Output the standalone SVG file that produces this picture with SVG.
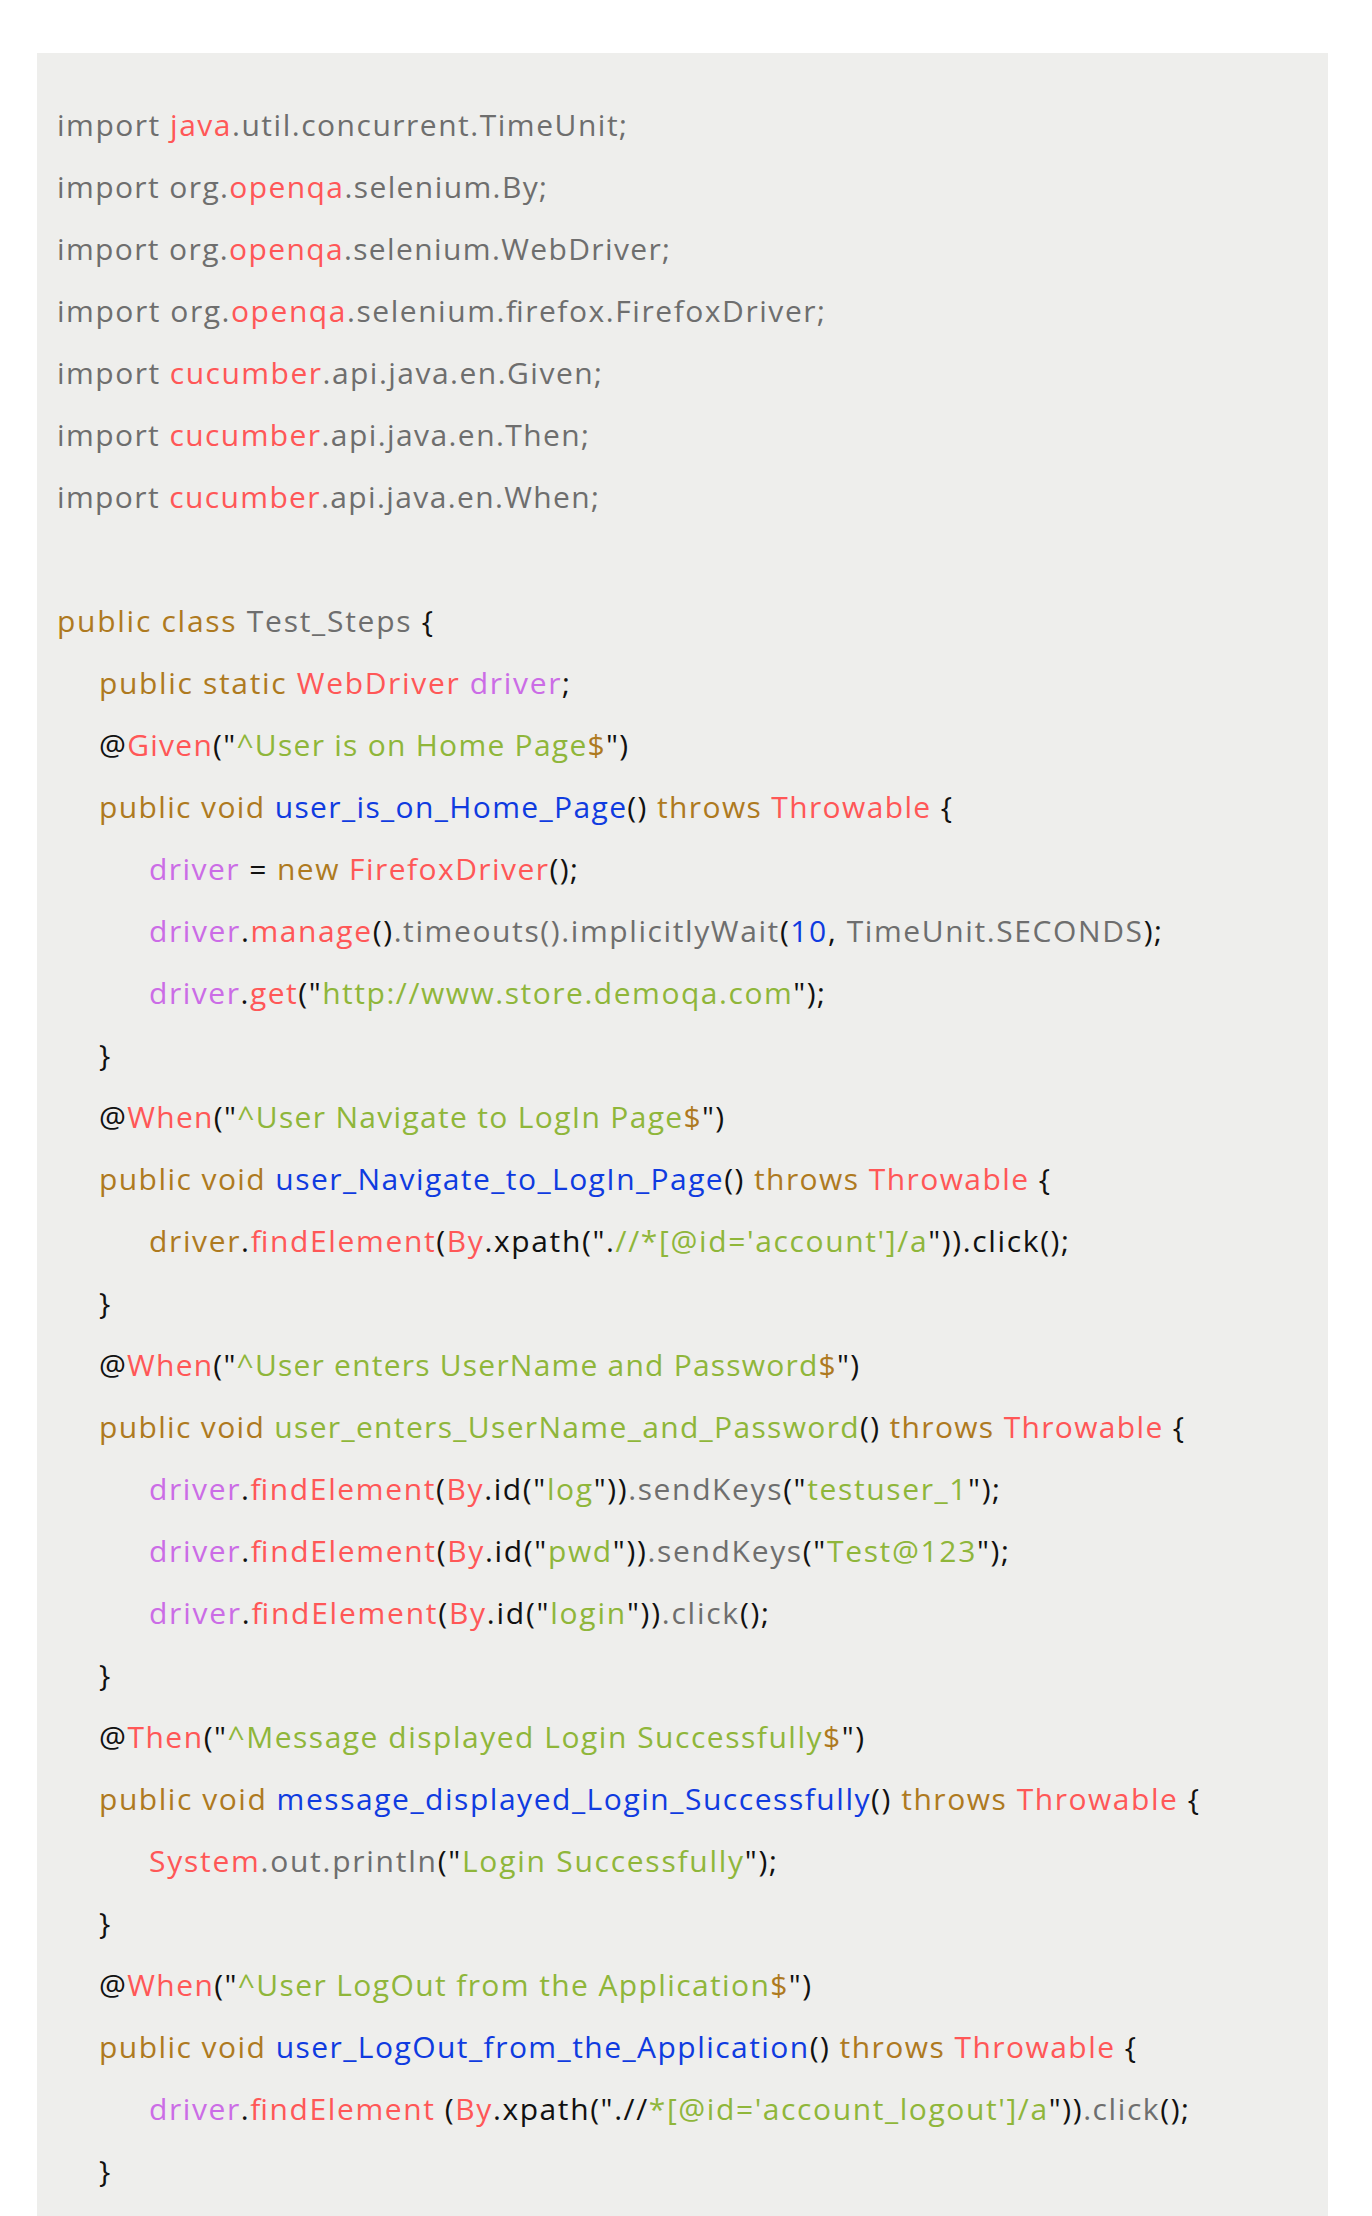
<svg xmlns="http://www.w3.org/2000/svg" width="1372" height="2216" viewBox="0 0 1372 2216">
<style>
text{font-family:"Open Sans",Roboto,"Liberation Sans",sans-serif;font-size:30px;white-space:pre}
.g{fill:#6E6E6E}.r{fill:#FF5757}.k{fill:#AE7A1F}.p{fill:#CB6CE6}.s{fill:#8FB63A}.b{fill:#0F3BE0}.d{fill:#111111}
</style>
<rect width="1372" height="2216" fill="#ffffff"/>
<rect id="panel" x="37" y="53" width="1291" height="2163" fill="#EEEEEC"/>
<g id="code" xml:space="preserve">
<text id="l0" x="57" y="136" textLength="570" lengthAdjust="spacing"><tspan class="g">import </tspan><tspan class="r">java</tspan><tspan class="g">.util.concurrent.TimeUnit;</tspan></text>
<text id="l1" x="57" y="198" textLength="490" lengthAdjust="spacing"><tspan class="g">import org.</tspan><tspan class="r">openqa</tspan><tspan class="g">.selenium.By;</tspan></text>
<text id="l2" x="57" y="260" textLength="613" lengthAdjust="spacing"><tspan class="g">import org.</tspan><tspan class="r">openqa</tspan><tspan class="g">.selenium.WebDriver;</tspan></text>
<text id="l3" x="57" y="322" textLength="768" lengthAdjust="spacing"><tspan class="g">import org.</tspan><tspan class="r">openqa</tspan><tspan class="g">.selenium.firefox.FirefoxDriver;</tspan></text>
<text id="l4" x="57" y="384" textLength="545" lengthAdjust="spacing"><tspan class="g">import </tspan><tspan class="r">cucumber</tspan><tspan class="g">.api.java.en.Given;</tspan></text>
<text id="l5" x="57" y="446" textLength="532" lengthAdjust="spacing"><tspan class="g">import </tspan><tspan class="r">cucumber</tspan><tspan class="g">.api.java.en.Then;</tspan></text>
<text id="l6" x="57" y="508" textLength="542" lengthAdjust="spacing"><tspan class="g">import </tspan><tspan class="r">cucumber</tspan><tspan class="g">.api.java.en.When;</tspan></text>
<text id="l8" x="57" y="632" textLength="376" lengthAdjust="spacing"><tspan class="k">public class </tspan><tspan class="g">Test_Steps</tspan><tspan class="d"> {</tspan></text>
<text id="l9" x="99" y="694" textLength="471" lengthAdjust="spacing"><tspan class="k">public static </tspan><tspan class="r">WebDriver</tspan><tspan class="d"> </tspan><tspan class="p">driver</tspan><tspan class="d">;</tspan></text>
<text id="l10" x="99" y="756" textLength="529" lengthAdjust="spacing"><tspan class="d">@</tspan><tspan class="r">Given</tspan><tspan class="d">("</tspan><tspan class="s">^User is on Home Page</tspan><tspan class="k">$</tspan><tspan class="d">")</tspan></text>
<text id="l11" x="99" y="818" textLength="853" lengthAdjust="spacing"><tspan class="k">public void </tspan><tspan class="b">user_is_on_Home_Page</tspan><tspan class="d">() </tspan><tspan class="k">throws </tspan><tspan class="r">Throwable</tspan><tspan class="d"> {</tspan></text>
<text id="l12" x="149" y="880" textLength="429" lengthAdjust="spacing"><tspan class="p">driver</tspan><tspan class="d"> = </tspan><tspan class="k">new </tspan><tspan class="r">FirefoxDriver</tspan><tspan class="d">();</tspan></text>
<text id="l13" x="149" y="942" textLength="1013" lengthAdjust="spacing"><tspan class="p">driver</tspan><tspan class="d">.</tspan><tspan class="r">manage</tspan><tspan class="d">()</tspan><tspan class="g">.timeouts().implicitlyWait</tspan><tspan class="d">(</tspan><tspan class="b">10</tspan><tspan class="d">, </tspan><tspan class="g">TimeUnit.SECONDS</tspan><tspan class="d">);</tspan></text>
<text id="l14" x="149" y="1004" textLength="676" lengthAdjust="spacing"><tspan class="p">driver</tspan><tspan class="d">.</tspan><tspan class="r">get</tspan><tspan class="d">("</tspan><tspan class="s">http://www.store.demoqa.com</tspan><tspan class="d">");</tspan></text>
<text id="l15" x="99" y="1066" class="d">}</text>
<text id="l16" x="99" y="1128" textLength="625" lengthAdjust="spacing"><tspan class="d">@</tspan><tspan class="r">When</tspan><tspan class="d">("</tspan><tspan class="s">^User Navigate to LogIn Page</tspan><tspan class="k">$</tspan><tspan class="d">")</tspan></text>
<text id="l17" x="99" y="1190" textLength="951" lengthAdjust="spacing"><tspan class="k">public void </tspan><tspan class="b">user_Navigate_to_LogIn_Page</tspan><tspan class="d">() </tspan><tspan class="k">throws </tspan><tspan class="r">Throwable</tspan><tspan class="d"> {</tspan></text>
<text id="l18" x="149" y="1252" textLength="920" lengthAdjust="spacing"><tspan class="k">driver</tspan><tspan class="d">.</tspan><tspan class="r">findElement</tspan><tspan class="d">(</tspan><tspan class="r">By</tspan><tspan class="d">.xpath(".</tspan><tspan class="s">//*[@id='account']/a</tspan><tspan class="d">")).click();</tspan></text>
<text id="l19" x="99" y="1314" class="d">}</text>
<text id="l20" x="99" y="1376" textLength="760" lengthAdjust="spacing"><tspan class="d">@</tspan><tspan class="r">When</tspan><tspan class="d">("</tspan><tspan class="s">^User enters UserName and Password</tspan><tspan class="k">$</tspan><tspan class="d">")</tspan></text>
<text id="l21" x="99" y="1438" textLength="1085" lengthAdjust="spacing"><tspan class="k">public void </tspan><tspan class="s">user_enters_UserName_and_Password</tspan><tspan class="d">() </tspan><tspan class="k">throws </tspan><tspan class="r">Throwable</tspan><tspan class="d"> {</tspan></text>
<text id="l22" x="149" y="1500" textLength="851" lengthAdjust="spacing"><tspan class="p">driver</tspan><tspan class="d">.</tspan><tspan class="r">findElement</tspan><tspan class="d">(</tspan><tspan class="r">By</tspan><tspan class="d">.id("</tspan><tspan class="s">log</tspan><tspan class="d">"))</tspan><tspan class="g">.sendKeys</tspan><tspan class="d">("</tspan><tspan class="s">testuser_1</tspan><tspan class="d">");</tspan></text>
<text id="l23" x="149" y="1562" textLength="860" lengthAdjust="spacing"><tspan class="p">driver</tspan><tspan class="d">.</tspan><tspan class="r">findElement</tspan><tspan class="d">(</tspan><tspan class="r">By</tspan><tspan class="d">.id("</tspan><tspan class="s">pwd</tspan><tspan class="d">"))</tspan><tspan class="g">.sendKeys</tspan><tspan class="d">("</tspan><tspan class="s">Test@123</tspan><tspan class="d">");</tspan></text>
<text id="l24" x="149" y="1624" textLength="620" lengthAdjust="spacing"><tspan class="p">driver</tspan><tspan class="d">.</tspan><tspan class="r">findElement</tspan><tspan class="d">(</tspan><tspan class="r">By</tspan><tspan class="d">.id("</tspan><tspan class="s">login</tspan><tspan class="d">"))</tspan><tspan class="g">.click</tspan><tspan class="d">();</tspan></text>
<text id="l25" x="99" y="1686" class="d">}</text>
<text id="l26" x="99" y="1748" textLength="765" lengthAdjust="spacing"><tspan class="d">@</tspan><tspan class="r">Then</tspan><tspan class="d">("</tspan><tspan class="s">^Message displayed Login Successfully</tspan><tspan class="k">$</tspan><tspan class="d">")</tspan></text>
<text id="l27" x="99" y="1810" textLength="1100" lengthAdjust="spacing"><tspan class="k">public void </tspan><tspan class="b">message_displayed_Login_Successfully</tspan><tspan class="d">() </tspan><tspan class="k">throws </tspan><tspan class="r">Throwable</tspan><tspan class="d"> {</tspan></text>
<text id="l28" x="149" y="1872" textLength="628" lengthAdjust="spacing"><tspan class="r">System</tspan><tspan class="g">.out.println</tspan><tspan class="d">("</tspan><tspan class="s">Login Successfully</tspan><tspan class="d">");</tspan></text>
<text id="l29" x="99" y="1934" class="d">}</text>
<text id="l30" x="99" y="1996" textLength="712" lengthAdjust="spacing"><tspan class="d">@</tspan><tspan class="r">When</tspan><tspan class="d">("</tspan><tspan class="s">^User LogOut from the Application</tspan><tspan class="k">$</tspan><tspan class="d">")</tspan></text>
<text id="l31" x="99" y="2058" textLength="1037" lengthAdjust="spacing"><tspan class="k">public void </tspan><tspan class="b">user_LogOut_from_the_Application</tspan><tspan class="d">() </tspan><tspan class="k">throws </tspan><tspan class="r">Throwable</tspan><tspan class="d"> {</tspan></text>
<text id="l32" x="149" y="2120" textLength="1040" lengthAdjust="spacing"><tspan class="p">driver</tspan><tspan class="d">.</tspan><tspan class="r">findElement </tspan><tspan class="d">(</tspan><tspan class="r">By</tspan><tspan class="d">.xpath(".//</tspan><tspan class="s">*[@id='account_logout']/a</tspan><tspan class="d">"))</tspan><tspan class="g">.click</tspan><tspan class="d">();</tspan></text>
<text id="l33" x="99" y="2182" class="d">}</text>
</g>
</svg>
